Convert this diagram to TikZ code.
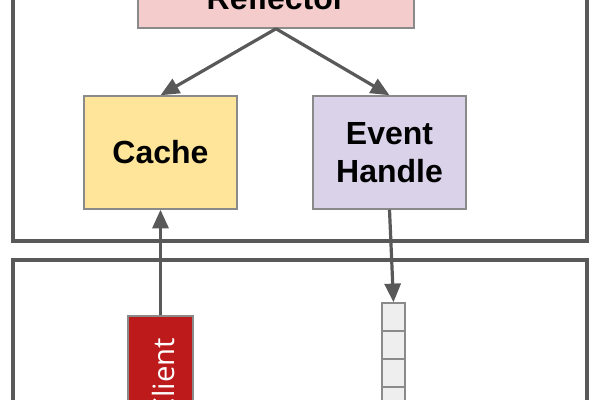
\documentclass[tikz,border=0pt]{standalone}
\usepackage{fontspec}
\setmainfont{Liberation Sans}
\newfontfamily\clientfont{Open Sans}
\usepackage{tikz}
\usetikzlibrary{arrows.meta}

\definecolor{linegray}{HTML}{595959}
\definecolor{boxgray}{HTML}{8A8A8A}
\definecolor{reflred}{HTML}{F4CCCC}
\definecolor{cacheyellow}{HTML}{FFE599}
\definecolor{eventpurple}{HTML}{D9D2E9}
\definecolor{clientred}{HTML}{BD1A1C}
\definecolor{cellgray}{HTML}{EEEEEE}

\begin{document}
\begin{tikzpicture}[x=0.75pt,y=-0.75pt]
        \tikzstyle{block}=[draw=boxgray,line width=1.1pt,inner sep=0pt,
            align=center,font=\bfseries\fontsize{24}{28}\selectfont]
        \tikzstyle{frame}=[draw=linegray,line width=2.3pt]
        \tikzstyle{flow}=[draw=linegray,line width=2.4pt,
            -{Triangle[length=14pt,width=12pt]}]
        \tikzstyle{cell}=[draw=boxgray,fill=cellgray,line width=1.1pt,
            minimum width=17.25pt,minimum height=21pt,inner sep=0pt]

            \useasboundingbox (0,0) rectangle (600,400);
            \clip (0,0) rectangle (600,400);

            % the two frames
            \draw[frame] (13,-80) rectangle (587,241);
            \draw[frame] (13,260) rectangle (587,480);

            \node[block, fill=reflred, minimum width=207pt,
                minimum height=45pt] (reflector) at (276,-2) {Reflector};
            \node[block, fill=cacheyellow, minimum width=114.75pt,
                minimum height=84.75pt] (cache) at (160.5,152.5) {Cache};
            \node[block, fill=eventpurple, minimum width=114.75pt,
                minimum height=84.75pt] (event) at (389.5,152.5)
                {Event\\Handle};

            \node[draw=boxgray, line width=1.1pt, fill=clientred,
                minimum width=48.75pt, minimum height=93pt]
                (client) at (160.5,378) {};
            \node[rotate=90, text=white, inner sep=0pt,
                font=\clientfont\fontsize{22}{26}\selectfont]
                (clientlabel) at (163,377) {Client};

            % queue
            \foreach \i in {1,...,5}
                \node[cell] (q\i) at (393.5,{303+14+28*(\i-1)}) {};

            \draw[flow] (reflector.south) -- (cache.north);
            \draw[flow] (reflector.south) -- (event.north);
            \draw[flow] (client.north) -- (cache.south);
            \draw[flow] (event.south) -- (q1.north);
        \end{tikzpicture}
\end{document}
